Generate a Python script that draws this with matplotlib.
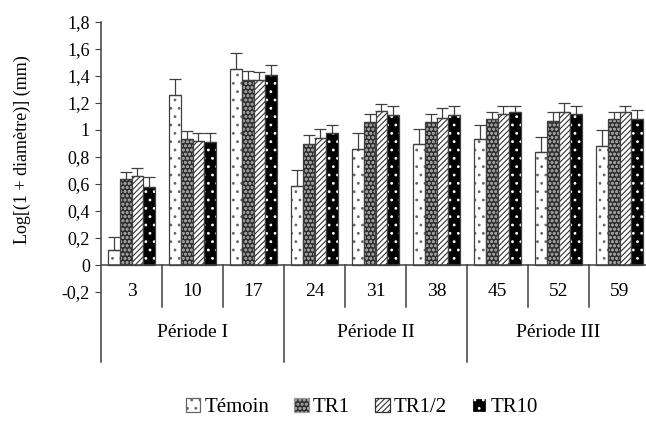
import numpy as np
import matplotlib.pyplot as plt
from matplotlib.patches import Patch

plt.rcParams['font.family'] = ['Liberation Serif', 'DejaVu Serif']
plt.rcParams['hatch.linewidth'] = 0.8

# data
days = ['3', '10', '17', '24', '31', '38', '45', '52', '59']
periods = ['Période I', 'Période II', 'Période III']
temoin = [0.11, 1.26, 1.45, 0.585, 0.86, 0.90, 0.93, 0.84, 0.88]
temoin_err = [0.10, 0.12, 0.12, 0.12, 0.12, 0.11, 0.11, 0.11, 0.12]
tr1 = [0.64, 0.93, 1.37, 0.90, 1.06, 1.06, 1.08, 1.07, 1.08]
tr1_err = [0.05, 0.06, 0.07, 0.06, 0.06, 0.06, 0.05, 0.06, 0.05]
tr12 = [0.66, 0.92, 1.37, 0.94, 1.14, 1.09, 1.12, 1.13, 1.13]
tr12_err = [0.06, 0.06, 0.06, 0.07, 0.05, 0.07, 0.06, 0.07, 0.05]
tr10 = [0.58, 0.91, 1.41, 0.98, 1.11, 1.11, 1.13, 1.12, 1.08]
tr10_err = [0.07, 0.07, 0.07, 0.06, 0.07, 0.07, 0.05, 0.06, 0.07]

series = [
    ('Témoin', temoin, temoin_err, 'white', '#666666', '..'),
    ('TR1', tr1, tr1_err, '#2e2e2e', '#9a9a9a', 'oooo'),
    ('TR1/2', tr12, tr12_err, 'white', '#333333', '//////'),
    ('TR10', tr10, tr10_err, 'black', 'white', '..'),
]
edge = '#404040'

fig = plt.figure(figsize=(6.46, 4.21), dpi=100)
ax = fig.add_axes([101 / 646, 129 / 421, 549 / 646, 270 / 421])

x = np.arange(len(days))
w = 0.19
for i, (name, vals, err, face, hcol, hatch) in enumerate(series):
    pos = x + (i - 1.5) * w
    ax.bar(pos, vals, w, color=face, edgecolor=hcol, hatch=hatch, linewidth=0)
    ax.bar(pos, vals, w, fill=False, edgecolor=edge, linewidth=0.9)
    ax.errorbar(pos, vals, yerr=[np.zeros(len(err)), err], fmt='none',
                ecolor=edge, elinewidth=0.9, capsize=4, capthick=0.9)

ax.set_xlim(-0.5, len(days) - 0.5)
ax.set_ylim(-0.2, 1.8)
yt = np.arange(-0.2, 1.81, 0.2)
ax.set_yticks(yt)
ax.set_yticklabels([('%g' % round(v, 1)).replace('.', ',') for v in yt], fontsize=13)
ax.tick_params(axis='y', direction='out', length=4, color=edge, pad=4)
ax.set_xticks([])
for s in ['top', 'right', 'bottom', 'left']:
    ax.spines[s].set_visible(False)

# category axis lines
ax.axhline(0, color=edge, lw=1.1)
ax.plot([-0.5, -0.5], [1.8, -0.72], color=edge, lw=1.1, clip_on=False)
for k in range(1, len(days)):
    bottom = -0.72 if k % 3 == 0 else -0.31
    ax.plot([k - 0.5, k - 0.5], [0, bottom], color=edge, lw=1.1, clip_on=False)

for k, d in enumerate(days):
    ax.text(k, -0.2, d, ha='center', va='center', fontsize=14, clip_on=False)
for j, p in enumerate(periods):
    ax.text(3 * j + 1, -0.5, p, ha='center', va='center', fontsize=14, clip_on=False)

fig.text(22 / 646, 0.645, 'Log[(1 + diamètre)] (mm)', rotation=90,
         ha='center', va='center', fontsize=13)

handles = [Patch(facecolor=s[3], edgecolor=s[4], hatch=s[5]) for s in series]
names = [s[0] for s in series]
leg = fig.legend(handles, names, loc='center', bbox_to_anchor=(0.56, 0.032), ncol=4,
                 frameon=False, fontsize=15, handlelength=0.7, handleheight=0.7,
                 handletextpad=0.2, columnspacing=1.2)
for h in leg.legend_handles:
    h.set_linewidth(0.9)

fig.savefig('out.png', dpi=100)
